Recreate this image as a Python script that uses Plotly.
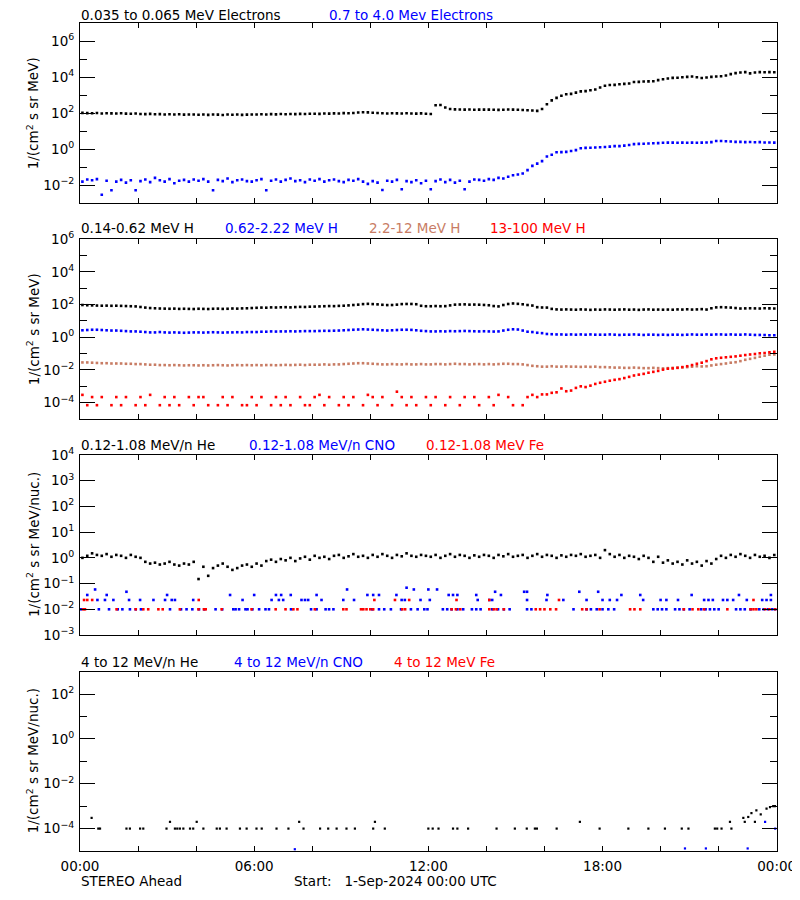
import math
import plotly.graph_objects as go

# browser page adds an 8px body margin; size the figure so it fills the 800x900 window
OFF = 8
W, H = 800 - OFF, 900 - OFF

# ---------------- data (hours after 2024-09-01 00:00 UTC) ----------------
t10 = [i / 6 + 1 / 12 for i in range(144)]  # 10-minute sample times

# Panel 1: electrons
e_low = [
    105, 102, 100, 104, 98, 101, 99, 97, 100, 96, 95, 97,
    92, 90, 93, 88, 90, 86, 89, 85, 88, 84, 86, 85,
    83, 86, 82, 85, 84, 81, 86, 83, 85, 82, 84, 86,
    85, 88, 86, 90, 87, 91, 89, 92, 90, 93, 91, 94,
    95, 93, 97, 96, 99, 98, 102, 100, 104, 110, 115, 112,
    108, 104, 100, 98, 101, 99, 97, 100, 98, 96, 99, 94,
    92, 280, 290, 210, 175, 165, 162, 160, 163, 158, 161, 159,
    160, 157, 155, 158, 162, 160, 157, 152, 148, 142, 136, 175,
    320, 520, 720, 950, 1150, 1200, 1400, 1650, 1700, 1900, 2100, 2700,
    3400, 3700, 3800, 4100, 4300, 4500, 5500, 5600, 5800, 5900, 6000, 7000,
    7800, 8500, 9300, 9500, 10000, 10500, 11000, 10000, 9200, 9800, 10500, 11000,
    11500, 12500, 15000, 17000, 18500, 19500, 16500, 18500, 19500, 19000, 19500, 19000,
]
e_high = [
    0.016, 0.021, 0.019, 0.022, 0.003, 0.018, 0.0053, 0.016, 0.02, 0.014, 0.019, 0.0053,
    0.017, 0.021, 0.015, 0.026, 0.019, 0.016, 0.022, 0.013, 0.018, 0.02, 0.016, 0.021,
    0.018, 0.022, 0.016, 0.0053, 0.02, 0.017, 0.024, 0.015, 0.019, 0.021, 0.017, 0.016,
    0.019, 0.022, 0.0053, 0.018, 0.021, 0.016, 0.02, 0.024, 0.017, 0.019, 0.015, 0.021,
    0.018, 0.022, 0.016, 0.019, 0.021, 0.017, 0.015, 0.02, 0.018, 0.022, 0.016, 0.012,
    0.017, 0.014, 0.0055, 0.018, 0.016, 0.02, 0.006, 0.017, 0.015, 0.019, 0.013, 0.018,
    0.006, 0.017, 0.021, 0.015, 0.02, 0.014, 0.018, 0.006, 0.016, 0.021, 0.02, 0.018,
    0.022, 0.02, 0.026, 0.024, 0.03, 0.036, 0.04, 0.045, 0.07, 0.12, 0.16, 0.22,
    0.4, 0.5, 0.68, 0.7, 0.72, 0.8, 0.9, 1.15, 1.2, 1.22, 1.25, 1.3,
    1.35, 1.4, 1.5, 1.5, 1.6, 1.75, 1.95, 2.0, 2.05, 2.1, 2.15, 2.2,
    2.3, 2.35, 2.35, 2.3, 2.35, 2.3, 2.35, 2.3, 2.35, 2.4, 2.5, 2.9,
    2.9, 2.8, 2.7, 2.6, 2.6, 2.5, 2.55, 2.45, 2.5, 2.4, 2.4, 2.35,
]

# Panel 2: protons
h1 = [
    95, 92, 90, 88, 86, 87, 85, 86, 84, 82, 80, 78,
    72, 66, 62, 60, 58, 57, 56, 57, 55, 56, 55, 54,
    56, 55, 54, 56, 57, 55, 56, 58, 57, 59, 60, 62,
    64, 66, 65, 68, 67, 69, 70, 68, 71, 73, 72, 75,
    76, 78, 80, 82, 81, 84, 86, 90, 95, 100, 108, 112,
    108, 104, 98, 94, 95, 100, 108, 110, 110, 106, 85, 80,
    80, 82, 80, 81, 90, 100, 102, 104, 100, 101, 99, 96,
    92, 82, 78, 95, 110, 118, 112, 105, 95, 88, 70, 67,
    66, 55, 51, 50, 51, 50, 49, 51, 50, 48, 50, 49,
    51, 50, 49, 50, 51, 49, 50, 48, 50, 51, 49, 50,
    49, 50, 49, 51, 50, 52, 50, 51, 53, 50, 60, 68,
    70, 68, 66, 62, 58, 59, 60, 59, 58, 60, 59, 58,
]
h2 = [
    2.7, 2.8, 2.9, 2.9, 2.8, 2.7, 2.6, 2.6, 2.5, 2.4, 2.3, 2.3,
    2.2, 2.1, 2.0, 2.0, 2.1, 2.0, 1.95, 2.0, 1.95, 1.9, 1.95, 2.0,
    2.0, 1.95, 2.0, 2.05, 2.0, 1.95, 2.0, 2.0, 2.05, 2.0, 2.1, 2.1,
    2.1, 2.2, 2.2, 2.3, 2.25, 2.3, 2.3, 2.35, 2.3, 2.35, 2.4, 2.4,
    2.4, 2.45, 2.5, 2.5, 2.55, 2.6, 2.7, 2.8, 2.9, 3.0, 3.1, 3.0,
    2.9, 2.8, 2.7, 2.6, 2.7, 2.8, 2.9, 2.9, 2.85, 2.7, 2.5, 2.4,
    2.3, 2.3, 2.35, 2.3, 2.4, 2.35, 2.4, 2.45, 2.4, 2.35, 2.3, 2.35,
    2.3, 2.25, 2.3, 2.6, 2.9, 3.1, 3.0, 2.6, 2.2, 2.1, 1.9, 1.8,
    1.6, 1.55, 1.5, 1.5, 1.45, 1.5, 1.45, 1.5, 1.45, 1.5, 1.45, 1.45,
    1.45, 1.5, 1.45, 1.4, 1.45, 1.45, 1.5, 1.45, 1.4, 1.45, 1.45, 1.4,
    1.45, 1.4, 1.45, 1.45, 1.4, 1.45, 1.5, 1.45, 1.45, 1.5, 1.45, 1.5,
    1.5, 1.45, 1.5, 1.45, 1.45, 1.5, 1.45, 1.4, 1.4, 1.4, 1.35, 1.35,
]
h3 = [
    0.029, 0.029, 0.028, 0.027, 0.026, 0.026, 0.025, 0.025, 0.025, 0.024, 0.024, 0.023,
    0.023, 0.022, 0.021, 0.021, 0.02, 0.02, 0.0195, 0.02, 0.0195, 0.019, 0.0195, 0.0195,
    0.019, 0.0195, 0.019, 0.0195, 0.02, 0.0195, 0.019, 0.0195, 0.02, 0.0195, 0.02, 0.0195,
    0.02, 0.0195, 0.02, 0.02, 0.0195, 0.02, 0.0205, 0.02, 0.0205, 0.021, 0.02, 0.021,
    0.021, 0.021, 0.022, 0.021, 0.022, 0.022, 0.023, 0.024, 0.025, 0.026, 0.026, 0.025,
    0.024, 0.023, 0.022, 0.022, 0.023, 0.022, 0.022, 0.023, 0.022, 0.022, 0.023, 0.022,
    0.022, 0.023, 0.023, 0.022, 0.023, 0.024, 0.023, 0.023, 0.022, 0.023, 0.023, 0.022,
    0.023, 0.022, 0.023, 0.024, 0.024, 0.023, 0.023, 0.022, 0.02, 0.018, 0.017, 0.016,
    0.016, 0.017, 0.016, 0.016, 0.0165, 0.016, 0.016, 0.0155, 0.016, 0.0155, 0.016, 0.015,
    0.015, 0.0145, 0.014, 0.014, 0.0135, 0.0135, 0.014, 0.0135, 0.013, 0.013, 0.0135, 0.013,
    0.0125, 0.013, 0.0135, 0.014, 0.0145, 0.015, 0.016, 0.017, 0.0165, 0.017, 0.019, 0.021,
    0.023, 0.025, 0.028, 0.03, 0.035, 0.042, 0.048, 0.055, 0.065, 0.075, 0.085, 0.09,
]
h4 = [
    3e-4, 7e-5, 2.2e-4, 7e-5, 2.2e-4, None, 7e-5, 2.2e-4, 7e-5, 2.2e-4, None, 7e-5,
    2.2e-4, 7e-5, 3e-4, None, 7e-5, 2.2e-4, 7e-5, 2.2e-4, 7e-5, None, 2.2e-4, 7e-5,
    2.2e-4, 2.2e-4, 7e-5, None, 7e-5, 2.2e-4, 7e-5, 2.2e-4, None, 7e-5, 7e-5, 2.2e-4,
    7e-5, 2.2e-4, None, 7e-5, 2.2e-4, 7e-5, 2.2e-4, 7e-5, None, 2.2e-4, 7e-5, 7e-5,
    2.2e-4, 3e-4, 7e-5, 2.2e-4, None, 7e-5, 2.2e-4, 7e-5, 2.2e-4, None, 7e-5, 3e-4,
    2.2e-4, 7e-5, 2.2e-4, None, 7e-5, 4.7e-4, 2.2e-4, 7e-5, 2.2e-4, 7e-5, None, 2.2e-4,
    7e-5, 2.2e-4, None, 7e-5, 2.2e-4, None, 7e-5, 2.2e-4, None, 2.2e-4, 7e-5, None,
    2.2e-4, 7e-5, 3e-4, None, 2.2e-4, 7e-5, None, 7e-5, 2.2e-4, 3e-4, 2.2e-4, 3.2e-4,
    3.2e-4, 4e-4, 4.3e-4, 7.4e-4, 5e-4, 5.5e-4, 8e-4, 1e-3, 9e-4, 1.1e-3, 1.4e-3, 1.65e-3,
    1.9e-3, 2.2e-3, 2.5e-3, 2.75e-3, 3.2e-3, 3.8e-3, 4.6e-3, 5.2e-3, 5.8e-3, 6.8e-3, 7.7e-3, 8.8e-3,
    0.0105, 0.012, 0.0125, 0.0135, 0.015, 0.017, 0.02, 0.024, 0.028, 0.035, 0.045, 0.052,
    0.056, 0.06, 0.064, 0.068, 0.075, 0.082, 0.089, 0.095, 0.105, 0.11, 0.12, 0.13,
]

# Panel 3: 0.12-1.08 MeV/n ions
he3 = [
    1.0, 1.2, 1.5, 1.3, 1.2, 1.4, 1.1, 1.3, 1.2, 1.0, 1.3, 1.1,
    1.0, 0.7, 0.6, 0.65, 0.55, 0.6, 0.7, 0.55, 0.5, 0.6, 0.55, 0.7,
    0.15, 0.45, 0.2, 0.4, 0.5, 0.6, 0.45, 0.34, 0.4, 0.5, 0.55, 0.45,
    0.6, 0.5, 0.75, 0.85, 0.7, 0.9, 0.8, 1.0, 0.75, 0.95, 1.1, 0.85,
    1.2, 1.0, 1.1, 0.9, 1.2, 1.3, 1.0, 1.15, 1.4, 1.1, 1.2, 1.0,
    1.3, 1.1, 1.4, 1.2, 1.0, 1.3, 1.15, 1.5, 1.2, 1.1, 1.3, 1.2,
    1.1, 1.3, 1.0, 1.2, 1.4, 1.1, 1.3, 1.2, 1.0, 1.25, 1.1, 1.3,
    1.2, 1.0, 1.3, 1.15, 1.4, 1.1, 1.2, 1.3, 1.0, 1.2, 1.4, 1.1,
    1.3, 1.2, 1.0, 1.25, 1.1, 1.3, 1.2, 1.4, 1.1, 1.2, 1.3, 1.0,
    2.0, 1.4, 1.1, 1.3, 1.0, 1.2, 1.1, 0.9, 1.2, 1.0, 0.7, 1.1,
    0.65, 0.8, 0.6, 0.7, 0.55, 0.8, 0.6, 0.7, 0.5, 0.75, 0.6, 0.9,
    1.2, 1.0, 1.3, 1.1, 1.4, 1.2, 1.0, 1.3, 1.1, 1.2, 1.0, 1.3,
]
# sparse, count-quantised series: {flux level: [hours]}
cno3 = {
    0.01: [0.03, 0.65, 1.0, 1.3, 1.46, 1.72, 1.92, 2.1, 3.1, 3.48, 3.67, 3.87, 4.1, 4.28,
           4.67, 4.9, 5.28, 5.36, 5.48, 5.7, 5.77, 5.94, 6.17, 6.39, 6.51, 7.27, 7.96,
           8.15, 8.46, 8.58, 8.73, 10.07, 10.3, 10.48, 10.71, 11.06, 11.4, 11.63, 11.86,
           11.97, 12.5, 12.65, 12.8, 13.0, 13.2, 13.5, 13.65, 13.8, 14.2, 14.4, 14.6, 14.8,
           15.4, 15.55, 17.0, 17.45, 17.6, 17.8, 18.0, 18.2, 18.4, 19.75, 19.9, 20.05,
           20.2, 20.5, 20.65, 20.8, 21.0, 21.4, 21.55, 21.7, 21.85, 22.0, 22.6, 22.75,
           22.9, 23.1, 23.4, 23.55, 23.7, 23.85, 23.95],
    0.023: [0.6, 0.86, 1.15, 1.69, 2.07, 2.53, 2.93, 3.16, 3.27, 3.9, 5.6, 6.6, 6.85, 7.0,
            7.63, 7.75, 7.86, 8.32, 9.07, 9.44, 11.08, 11.19, 11.73, 12.05, 13.7, 14.1,
            14.2, 15.4, 16.07, 16.65, 17.45, 18.0, 18.25, 18.5, 19.4, 20.0, 20.2, 20.6,
            21.5, 21.65, 21.8, 22.15, 22.3, 22.5, 22.97, 23.5, 23.65, 23.8],
    0.036: [0.25, 0.92, 3.0, 5.17, 6.0, 6.75, 6.93, 7.26, 8.15, 9.9, 10.1, 10.3, 10.9,
            12.7, 12.85, 13.0, 13.65, 14.5, 16.1, 18.65, 19.3, 21.07, 22.7, 23.8],
    0.048: [1.6, 14.3, 15.3, 15.4, 17.2, 17.85],
    0.059: [0.52, 9.2, 11.5, 12.0, 12.3],
    0.069: [11.25],
}
fe3 = {
    0.01: [0.11, 0.17, 1.26, 1.92, 2.18, 2.35, 2.7, 2.85, 3.44, 4.08, 4.27, 4.33, 4.88,
           5.91, 6.74, 7.08, 7.35, 7.49, 8.09, 9.07, 9.18, 9.68, 9.76, 9.87, 10.0, 10.1,
           11.1, 11.2, 12.8, 12.95, 13.1, 14.1, 14.25, 14.35, 14.6, 15.7, 15.85, 16.0,
           16.2, 16.4, 17.3, 17.45, 17.9, 18.95, 19.1, 19.3, 20.8, 21.1, 21.3, 21.5,
           22.3, 23.1, 23.2, 23.3, 23.6, 23.75, 23.95],
    0.023: [0.14, 0.25, 0.42, 4.09, 10.14, 10.85, 11.34, 12.97, 14.1, 16.5, 23.2],
}

# Panel 4: 4-12 MeV/n ions
he4 = {
    1e-4: [0.63, 0.69, 1.6, 1.72, 2.07, 2.18, 2.98, 3.27, 3.35, 3.44, 3.56, 3.79, 3.9,
           4.25, 4.71, 4.82, 5.05, 5.51, 5.74, 6.08, 6.26, 6.77, 7.18, 7.7, 8.27, 8.55,
           8.84, 9.18, 9.47, 10.1, 10.5, 12.0, 12.15, 12.35, 12.85, 13.0, 13.37, 14.35,
           14.98, 15.39, 15.67, 15.74, 16.42, 17.9, 18.89, 19.58, 20.15, 20.73, 20.96,
           21.87, 21.95, 22.1, 22.44],
    2e-4: [3.1, 4.02, 7.55, 10.16, 17.22, 22.39, 22.9, 23.25],
    3e-4: [0.4, 22.85],
    3.3e-4: [23.02],
    4.3e-4: [23.45],
    4.9e-4: [23.13],
    6.5e-4: [23.3],
    7.8e-4: [23.65],
    9e-4: [23.77],
    1e-3: [23.88, 23.94],
}
cno4 = {
    1.2e-5: [7.4],
    1.3e-5: [20.84, 21.56, 23.0],
    1e-4: [23.95],
    2e-4: [23.6],
}
fe4 = {}

for arr in (e_low, e_high, h1, h2, h3, h4, he3):
    assert len(arr) == 144, len(arr)

# ---------------- styling ----------------
BLACK, BLUE, RED, BROWN = "#000000", "#0000FF", "#FF0000", "#C87C64"
FONT = "DejaVu Sans"
FS = 13.5

# positions in window pixels (converted to figure paper coords below)
panels_px = [(23.3, 203.3), (239.3, 419.0), (455.0, 635.0), (671.7, 851.0)]
x_left, x_right = 80.0, 776.7


def px_x(x):
    return (x - OFF) / W


def px_y(y):
    return 1 - (y - OFF) / H


y_ranges = [(-3, 7), (-5, 6), (-3, 4), (-5, 3)]
major_ticks = [
    [1e-2, 1, 1e2, 1e4, 1e6],
    [1e-4, 1e-2, 1, 1e2, 1e4, 1e6],
    [1e-3, 1e-2, 1e-1, 1, 1e1, 1e2, 1e3, 1e4],
    [1e-4, 1e-2, 1, 1e2],
]
minor_ticks = [
    [1e-1, 1e1, 1e3, 1e5],
    [1e-3, 1e-1, 1e1, 1e3, 1e5],
    [],
    [1e-3, 1e-1, 1e1],
]
x_tickvals = [0, 6, 12, 18, 24]
x_ticktext = ["00:00", "06:00", "12:00", "18:00", "00:00"]


def pow_label(v):
    e = int(round(math.log10(v)))
    s = str(e) if e >= 0 else "\u2212" + str(-e)
    return "10<sup>" + s + "</sup>"


def unpack(d):
    xs, ys = [], []
    for lvl, times in d.items():
        for t in times:
            xs.append(t)
            ys.append(lvl)
    return xs, ys


fig = go.Figure()


def add(x, y, color, k, size=2.6):
    fig.add_trace(go.Scatter(
        x=x, y=y, mode="markers",
        marker=dict(symbol="square", size=size, color=color, line=dict(width=0)),
        xaxis="x" if k == 0 else f"x{k+1}",
        yaxis="y" if k == 0 else f"y{k+1}",
        showlegend=False, hoverinfo="skip",
    ))


add(t10, e_low, BLACK, 0)
add(t10, e_high, BLUE, 0)
add(t10, h1, BLACK, 1)
add(t10, h2, BLUE, 1)
add(t10, h3, BROWN, 1)
add(t10, h4, RED, 1)
add(t10, he3, BLACK, 2)
add(*unpack(cno3), BLUE, 2)
add(*unpack(fe3), RED, 2)
add(*unpack(he4), BLACK, 3, size=2.2)
add(*unpack(cno4), BLUE, 3, size=2.2)
add(*unpack(fe4), RED, 3, size=2.2)

layout = dict(
    width=W, height=H, margin=dict(l=0, r=0, t=0, b=0, autoexpand=False),
    paper_bgcolor="white", plot_bgcolor="white",
    font=dict(family=FONT, size=FS, color=BLACK),
    showlegend=False,
)

for k in range(4):
    top, bot = panels_px[k]
    xa = "xaxis" if k == 0 else f"xaxis{k+1}"
    ya = "yaxis" if k == 0 else f"yaxis{k+1}"
    xid = "x" if k == 0 else f"x{k+1}"
    yid = "y" if k == 0 else f"y{k+1}"
    layout[xa] = dict(
        domain=[px_x(x_left), px_x(x_right)], anchor=yid, range=[0, 24], automargin=False,
        showline=True, linecolor=BLACK, linewidth=1, mirror="ticks",
        showgrid=False, zeroline=False,
        ticks="inside", ticklen=5, tickcolor=BLACK, tickwidth=1,
        tickmode="array", tickvals=x_tickvals, ticktext=x_ticktext,
        showticklabels=(k == 3), ticklabelstandoff=3,
        tickfont=dict(family=FONT, size=FS, color=BLACK),
        minor=dict(tickmode="linear", tick0=0, dtick=2, ticks="inside",
                   ticklen=5, tickcolor=BLACK, tickwidth=1, showgrid=False),
    )
    ymin = dict(tickmode="array", tickvals=minor_ticks[k], ticks="inside",
                ticklen=7, tickcolor=BLACK, tickwidth=1, showgrid=False)
    layout[ya] = dict(
        domain=[px_y(bot), px_y(top)], anchor=xid, type="log", automargin=False,
        range=list(y_ranges[k]),
        showline=True, linecolor=BLACK, linewidth=1, mirror="ticks",
        showgrid=False, zeroline=False,
        ticks="inside", ticklen=15, tickcolor=BLACK, tickwidth=1,
        tickmode="array", tickvals=major_ticks[k],
        ticktext=[pow_label(v) for v in major_ticks[k]],
        ticklabelstandoff=2,
        tickfont=dict(family=FONT, size=FS, color=BLACK),
        minor=ymin,
    )

fig.update_layout(**layout)

# ---------------- text ----------------
titles = [
    (14.5, [("0.035 to 0.065 MeV Electrons", BLACK, 80), ("0.7 to 4.0 Mev Electrons", BLUE, 328)]),
    (228.5, [("0.14-0.62 MeV H", BLACK, 80), ("0.62-2.22 MeV H", BLUE, 224),
             ("2.2-12 MeV H", BROWN, 368), ("13-100 MeV H", RED, 489)]),
    (445.0, [("0.12-1.08 MeV/n He", BLACK, 80), ("0.12-1.08 MeV/n CNO", BLUE, 248),
             ("0.12-1.08 MeV Fe", RED, 425)]),
    (661.5, [("4 to 12 MeV/n He", BLACK, 80), ("4 to 12 MeV/n CNO", BLUE, 232.7),
             ("4 to 12 MeV Fe", RED, 393)]),
]
ann = []
for ypx, items in titles:
    for text, color, xpx in items:
        ann.append(dict(text=text, x=px_x(xpx), y=px_y(ypx), xref="paper", yref="paper",
                        xanchor="left", yanchor="middle", showarrow=False,
                        font=dict(family=FONT, size=FS, color=color), borderpad=0))

ylabels = ["1/(cm<sup>2</sup> s sr MeV)", "1/(cm<sup>2</sup> s sr MeV)",
           "1/(cm<sup>2</sup> s sr MeV/nuc.)", "1/(cm<sup>2</sup> s sr MeV/nuc.)"]
for k, lab in enumerate(ylabels):
    top, bot = panels_px[k]
    ann.append(dict(text=lab, x=px_x(33), y=px_y((top + bot) / 2), xref="paper", yref="paper",
                    xanchor="center", yanchor="middle", textangle=-90, showarrow=False,
                    font=dict(family=FONT, size=FS, color=BLACK)))

ann.append(dict(text="STEREO Ahead", x=px_x(80), y=px_y(881), xref="paper", yref="paper",
                xanchor="left", yanchor="middle", showarrow=False,
                font=dict(family=FONT, size=FS, color=BLACK), borderpad=0))
ann.append(dict(text="Start:&nbsp;&nbsp; 1-Sep-2024 00:00 UTC", x=px_x(293), y=px_y(881),
                xref="paper", yref="paper", xanchor="left", yanchor="middle", showarrow=False,
                font=dict(family=FONT, size=FS, color=BLACK), borderpad=0))
fig.update_layout(annotations=ann)

fig.write_html("out.html")
